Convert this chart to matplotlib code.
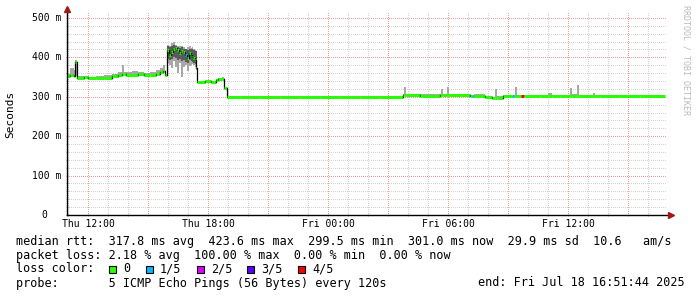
import matplotlib
matplotlib.use("Agg")
import matplotlib.pyplot as plt
from matplotlib.patches import Rectangle

# hours since Thu 00:00, step samples (value holds until next time)
times = [10.95, 11.10, 11.30, 11.35, 11.45, 11.80, 12.00, 12.40, 12.80, 13.20,
         13.50, 13.70, 13.80, 13.90, 14.20, 14.50, 14.80, 15.10, 15.40, 15.60,
         15.75, 15.85, 15.95, 16.05, 16.15, 16.25, 16.35, 16.45, 16.55, 16.65,
         16.75, 16.85, 16.95, 17.05, 17.15, 17.20, 17.25, 17.35, 17.40, 17.45,
         17.85, 18.15, 18.40, 18.50, 18.70, 18.80, 18.95, 19.60, 20.60, 21.60,
         22.60, 23.60, 24.60, 25.60, 26.60, 27.75, 27.80, 27.90, 28.60, 29.60,
         29.65, 29.75, 29.95, 30.05, 30.60, 31.10, 31.20, 31.30, 31.85, 32.20,
         32.35, 32.45, 32.75, 33.20, 33.30, 33.35, 33.45, 33.65, 33.80, 34.60,
         35.00, 35.20, 35.60, 36.10, 36.20, 36.45, 36.55, 37.25, 37.35, 37.60,
         38.60, 39.60]
t_end = 40.85

# median rtt (ms)
median = [353, 355, 352, 388, 348, 350, 347, 348, 347, 353,
          355, 357, 357, 354, 356, 357, 355, 356, 358, 362,
          366, 354, 419, 406, 414, 421, 424, 419, 411, 416,
          414, 406, 398, 411, 405, 401, 398, 393, 373, 338,
          339, 338, 342, 345, 346, 322, 300, 299, 300, 299,
          300, 299, 300, 299, 300, 304, 304, 304, 303, 304,
          304, 304, 304, 305, 305, 301, 301, 302, 299, 298,
          298, 298, 302, 301, 302, 302, 302, 302, 302, 303,
          303, 302, 302, 303, 303, 303, 302, 302, 302, 302,
          302, 303]

# smoke (spread of the pings)
smoke_lo = [351, 352, 350, 352, 346, 347, 345, 346, 345, 350,
            352, 354, 354, 352, 353, 354, 353, 354, 355, 358,
            360, 352, 385, 380, 372, 390, 375, 360, 385, 350,
            375, 380, 365, 378, 380, 382, 380, 375, 368, 336,
            337, 336, 340, 343, 344, 320, 298, 297, 298, 297,
            298, 297, 298, 297, 298, 302, 302, 302, 301, 302,
            302, 302, 302, 303, 303, 299, 299, 300, 297, 296,
            296, 296, 300, 299, 300, 300, 300, 300, 300, 301,
            301, 300, 300, 301, 301, 301, 300, 300, 300, 300,
            300, 301]
smoke_hi = [358, 374, 368, 392, 352, 353, 351, 352, 355, 358,
            362, 380, 364, 362, 366, 362, 360, 363, 368, 374,
            380, 358, 432, 428, 436, 438, 432, 430, 428, 430,
            426, 422, 425, 428, 424, 425, 422, 418, 398, 341,
            341, 340, 344, 347, 349, 325, 302, 301, 302, 301,
            302, 301, 302, 301, 303, 307, 325, 308, 306, 306,
            320, 307, 325, 308, 307, 304, 303, 306, 301, 300,
            320, 301, 304, 303, 304, 325, 304, 304, 304, 305,
            310, 304, 305, 322, 306, 330, 305, 310, 304, 304,
            304, 305]

# lost pings out of 5
loss = [0] * 31 + [1, 0, 0, 1] + [0] * 31 + [1] + [0] * 6 + [1] + [0] * 3 + [4] + [0] * 14

# darker inner smoke during the high-latency period
dark_times = [15.95, 16.05, 16.15, 16.25, 16.35, 16.45, 16.55, 16.65,
              16.75, 16.85, 16.95, 17.05, 17.15, 17.20, 17.25, 17.35, 17.40]
dark_lo = [395, 392, 395, 400, 398, 392, 395, 390,
           392, 388, 385, 392, 390, 388, 385, 382, 382]
dark_hi = [428, 425, 430, 432, 428, 426, 424, 425,
           422, 420, 418, 422, 420, 420, 418, 415, 415]

loss_colors = ['#26ff00', '#00b8ff', '#dd00ff', '#5a00ff', '#ff0000']
loss_labels = ['0', '1/5', '2/5', '3/5', '4/5']

x_ticks = [12, 18, 24, 30, 36]
x_labels = ['Thu 12:00', 'Thu 18:00', 'Fri 00:00', 'Fri 06:00', 'Fri 12:00']
y_ticks = [0, 100, 200, 300, 400, 500]
y_labels = ['0', '100 m', '200 m', '300 m', '400 m', '500 m']

W, H = 697, 297
mono = 'DejaVu Sans Mono'

fig = plt.figure(figsize=(W / 100, H / 100), dpi=100)
ax = fig.add_axes([67 / W, (H - 215) / H, 600 / W, 203 / H])
ax.set_xlim(10.95, 40.95)
ax.set_ylim(0, 515)

ax.set_xticks([h for h in range(11, 41) if h % 3 != 0], minor=True)
ax.set_xticks([h for h in range(12, 41, 3)])
ax.set_yticks([v for v in range(0, 515, 20) if v % 100 != 0], minor=True)
ax.set_yticks(range(0, 515, 100))
ax.set_xticklabels([])
ax.set_yticklabels([])
ax.tick_params(which='both', length=2, width=0.6, color='#999999', direction='inout')
ax.set_axisbelow(True)

# grid (1px dots), drawn as plain lines so the colours stick
dot = (0.5, (1, 1))
for h in range(11, 41):
    major = h % 3 == 0
    ax.axvline(h, color='#f09a9a' if major else '#d4d4d4', linestyle=dot,
               linewidth=0.72, zorder=0.5)
for v in range(20, 515, 20):
    major = v % 100 == 0
    ax.axhline(v, color='#f09a9a' if major else '#d4d4d4', linestyle=dot,
               linewidth=0.72, zorder=0.5)

for s in ['top', 'right']:
    ax.spines[s].set_visible(False)
for s in ['left', 'bottom']:
    ax.spines[s].set_linewidth(1.0)
    ax.spines[s].set_color('black')

# smoke
tt = times + [t_end]
ax.fill_between(tt, smoke_lo + [smoke_lo[-1]], smoke_hi + [smoke_hi[-1]],
                step='post', color='#a8a8a8', linewidth=0)
dt = dark_times + [17.45]
ax.fill_between(dt, dark_lo + [dark_lo[-1]], dark_hi + [dark_hi[-1]],
                step='post', color='#5a5a5a', linewidth=0)

# median line coloured by loss
for i in range(len(times)):
    t0, t1 = tt[i], tt[i + 1]
    ax.plot([t0, t1], [median[i], median[i]], color=loss_colors[loss[i]],
            linewidth=2.2, solid_capstyle='butt')
    if i + 1 < len(times):
        ax.plot([t1, t1], [median[i], median[i + 1]], color='black', linewidth=0.9)

# axis labels
for x, lab in zip(x_ticks, x_labels):
    ax.text(x, -24, lab, ha='center', va='center', family=mono, fontsize=7.0)
for y, lab in zip(y_ticks, y_labels):
    xpos = -6 / 600 if lab != '0' else -20 / 600
    ax.text(xpos, y, lab, ha='right', va='center', family=mono, fontsize=7.0,
            transform=ax.get_yaxis_transform())

# arrows
fig.lines.append(plt.Line2D([67 / W], [1 - 9 / H], marker='^', markersize=4,
                            color='#a01818', transform=fig.transFigure))
fig.lines.append(plt.Line2D([671 / W], [1 - 215 / H], marker='>', markersize=4,
                            color='#a01818', transform=fig.transFigure))

fig.text(10 / W, 1 - 114 / H, 'Seconds', rotation=90, ha='center', va='center',
         family=mono, fontsize=8.0)
fig.text(686 / W, 1 - 60 / H, 'RRDTOOL / TOBI OETIKER', rotation=270, ha='center',
         va='center', family=mono, fontsize=6.0, color='#bbbbbb')

def put(x, y, s):
    fig.text(x / W, 1 - y / H, s, ha='left', va='center', family=mono, fontsize=8.5)

put(16, 241, 'median rtt:  317.8 ms avg  423.6 ms max  299.5 ms min  '
             '301.0 ms now  29.9 ms sd  10.6   am/s')
put(16, 255, 'packet loss: 2.18 % avg  100.00 % max  0.00 % min  0.00 % now')

put(16, 269, 'loss color:')
box_x = [109, 146, 197, 247, 298]
for bx, col, lab in zip(box_x, loss_colors, loss_labels):
    fig.patches.append(Rectangle((bx / W, 1 - 273 / H), 7 / W, 7 / H, facecolor=col,
                                 edgecolor='black', linewidth=0.8,
                                 transform=fig.transFigure))
    put(bx + 14, 269, lab)

put(16, 283, 'probe:       5 ICMP Echo Pings (56 Bytes) every 120s')
put(478, 283, 'end: Fri Jul 18 16:51:44 2025')

fig.savefig('out.png', dpi=100)
